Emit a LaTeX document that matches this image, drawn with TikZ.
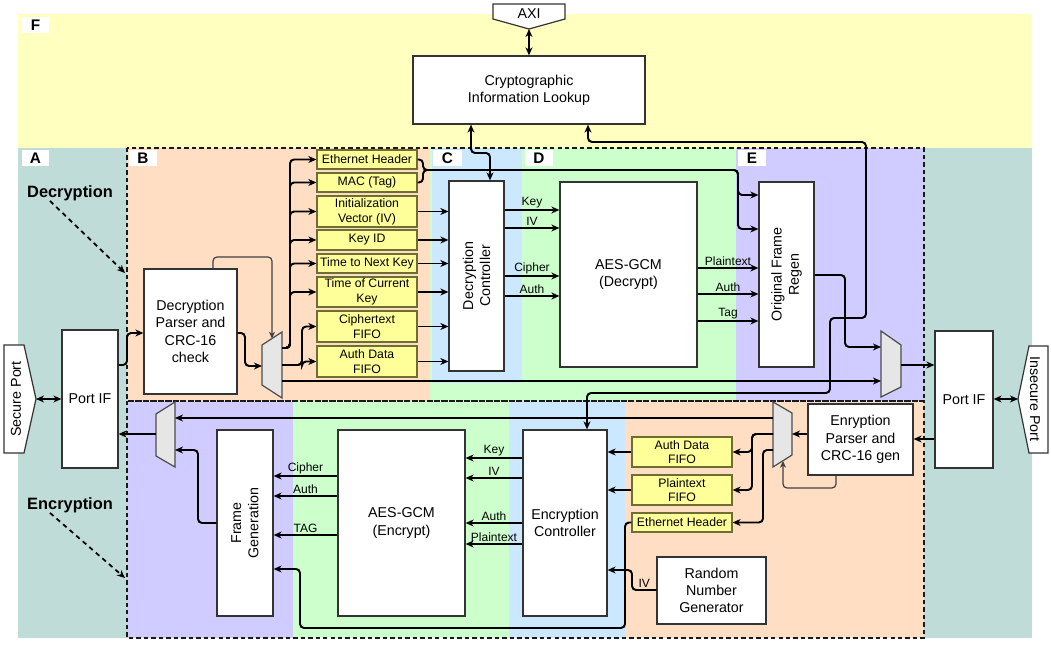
\documentclass[tikz,border=0pt]{standalone}
\usepackage{fontspec}
\setmainfont{Liberation Sans}
\usetikzlibrary{arrows.meta}
\definecolor{cF}{RGB}{255,255,192}
\definecolor{cA}{RGB}{192,220,216}
\definecolor{cB}{RGB}{255,222,196}
\definecolor{cC}{RGB}{204,232,255}
\definecolor{cD}{RGB}{204,255,204}
\definecolor{cE}{RGB}{208,204,255}
\definecolor{cFifo}{RGB}{255,255,153}
\definecolor{cFifoB}{RGB}{110,110,50}
\definecolor{cMux}{RGB}{230,230,230}
\newcommand\mkbox[7]{\pgfmathsetmacro\bw{(#5-#3)*0.75}\pgfmathsetmacro\bh{(#6-#4)*0.75}\node[#1,minimum width=\bw pt,minimum height=\bh pt] (#2) at ({(#3+#5)/2},{(#4+#6)/2}) {#7};}
\tikzset{
 >={Stealth[length=6pt,width=5.2pt,inset=1.8pt]},
 box/.style={draw=black!80, fill=white, line width=0.9pt, inner sep=0pt, align=center, font=\fontsize{10.7}{12.9}\selectfont},
 rtext/.style={rotate=90, align=center, inner sep=0pt, font=\fontsize{10.7}{12.9}\selectfont},
 fifo/.style={draw=cFifoB, fill=cFifo, line width=0.9pt, inner sep=0pt, align=center, font=\fontsize{9.2}{11}\selectfont},
 wire/.style={line width=1.45pt, rounded corners=3pt},
 wirethin/.style={line width=1.1pt, rounded corners=3pt},
 selw/.style={line width=0.9pt, draw=black!75, rounded corners=3pt, -{Stealth[length=5pt,width=4.5pt,inset=1.5pt]}},
 lbl/.style={font=\fontsize{9}{10}\selectfont, inner sep=1pt, above},
 mux/.style={draw=black!70, fill=cMux, line width=0.9pt},
 tagbox/.style={fill=white, inner sep=0pt, font=\bfseries\fontsize{11.5}{13}\selectfont},
 dashbox/.style={draw=black!90, line width=1.4pt, dash pattern=on 3.3pt off 2.3pt},
 bigl/.style={font=\bfseries\fontsize{12.3}{14}\selectfont, inner sep=0pt},
 dasharr/.style={line width=1.3pt, dash pattern=on 3.5pt off 3pt, ->},
}
\begin{document}
\begin{tikzpicture}[x=0.75pt,y=-0.75pt]
\useasboundingbox (0,0) rectangle (1051,648);
% regions
\fill[cA] (18,148) rectangle (1032,638);
\fill[cF] (18,14) rectangle (1032,148);
\fill[cB] (127,148) rectangle (432,401);
\fill[cD] (430,148) rectangle (736,401);
\fill[cC] (432,148) rectangle (522,383);
\fill[cE] (736,148) rectangle (924,401);
\fill[cE] (127,401) rectangle (293,638);
\fill[cD] (293,401) rectangle (509,638);
\fill[cC] (509,401) rectangle (625,638);
\fill[cB] (625,401) rectangle (924,638);
\draw[dashbox] (127,148) rectangle (924,401);
\draw[dashbox] (127,401) rectangle (924,638);
% region tags
\mkbox{tagbox}{tF}{22}{17}{49}{33}{F}
\mkbox{tagbox}{tA}{22}{150}{49}{166}{A}
\mkbox{tagbox}{tB}{129}{150}{157}{166}{B}
\mkbox{tagbox}{tC}{433}{150}{462}{166}{C}
\mkbox{tagbox}{tD}{525}{150}{553}{166}{D}
\mkbox{tagbox}{tE}{738}{150}{766}{166}{E}
% AXI
\draw[draw=black!80, fill=white, line width=0.9pt] (493,4) -- (565,4) -- (565,19) -- (529,29) -- (493,19) -- cycle;
\node[font=\fontsize{10.7}{12.9}\selectfont] (axi) at (529,14) {AXI};
\coordinate (axiTip) at (529,29);
% ports
\draw[draw=black!80, fill=white, line width=0.9pt] (4,345) -- (24,345) -- (36,399) -- (24,453) -- (4,453) -- cycle;
\node[rotate=90, font=\fontsize{10.7}{12.9}\selectfont] (secure) at (16,399) {Secure Port};
\coordinate (secTip) at (36,399);
\draw[draw=black!80, fill=white, line width=0.9pt] (1048,346) -- (1029,346) -- (1018,399) -- (1029,453) -- (1048,453) -- cycle;
\node[rotate=-90, font=\fontsize{10.7}{12.9}\selectfont] (insecure) at (1035,399) {Insecure Port};
\coordinate (insTip) at (1018,399);
% boxes
\mkbox{box}{crypto}{413}{56}{645}{124}{Cryptographic\\Information Lookup}
\mkbox{box}{decparser}{144}{269}{237}{394}{Decryption\\Parser and\\CRC-16\\check}
\mkbox{box}{portL}{62}{330}{118}{468}{Port IF}
\mkbox{box}{decctrl}{449}{181}{504}{371}{}
\mkbox{box}{aesd}{560}{182}{697}{367}{AES-GCM\\(Decrypt)}
\mkbox{box}{ofr}{759}{182}{814}{367}{}
\mkbox{box}{portR}{935}{331}{993}{468}{Port IF}
\mkbox{box}{encparser}{808}{404}{913}{475}{Enryption\\Parser and\\CRC-16 gen}
\mkbox{box}{encctrl}{523}{430}{607}{616}{Encryption\\Controller}
\mkbox{box}{aese}{338}{430}{465}{616}{AES-GCM\\(Encrypt)}
\mkbox{box}{framegen}{217}{430}{273}{616}{}
\mkbox{box}{rng}{657}{557}{766}{624}{Random\\Number\\Generator}
\node[rtext] at (decctrl.center) {Decryption\\Controller};
\node[rtext] at (ofr.center) {Original Frame\\Regen};
\node[rtext] at (framegen.center) {Frame\\Generation};
% fifos
\mkbox{fifo}{fEH}{317}{150}{417}{169}{Ethernet Header}
\mkbox{fifo}{fMAC}{317}{173}{417}{192}{MAC (Tag)}
\mkbox{fifo}{fIV}{317}{196}{417}{227}{Initialization\\Vector (IV)}
\mkbox{fifo}{fKID}{317}{230}{417}{250}{Key ID}
\mkbox{fifo}{fTNK}{317}{254}{417}{273}{Time to Next Key}
\mkbox{fifo}{fTCK}{317}{277}{417}{307}{Time of Current\\Key}
\mkbox{fifo}{fCT}{317}{311}{417}{342}{Ciphertext\\FIFO}
\mkbox{fifo}{fAD}{317}{346}{417}{377}{Auth Data\\FIFO}
\mkbox{fifo}{eAD}{632}{437}{732}{467}{Auth Data\\FIFO}
\mkbox{fifo}{ePT}{632}{475}{732}{505}{Plaintext\\FIFO}
\mkbox{fifo}{eEH}{632}{513}{732}{532}{Ethernet Header}
% muxes
\draw[mux] (262,345) -- (282,332) -- (282,398) -- (262,385) -- cycle;
\draw[mux] (881,331) -- (901,345) -- (901,387) -- (881,397) -- cycle;
\draw[mux] (773,402) -- (792,413) -- (792,455) -- (773,467) -- cycle;
\draw[mux] (156,414) -- (175,402) -- (175,467) -- (156,456) -- cycle;
\coordinate (dmuxIn) at (262,366);
\coordinate (dmuxSel) at (272,338.5);
\coordinate (dmuxO1) at (282,348);
\coordinate (dmuxO2) at (282,365);
\coordinate (dmuxO3) at (282,381);
\coordinate (rmuxI1) at (881,347);
\coordinate (rmuxI2) at (881,381);
\coordinate (rmuxO) at (901,365);
\coordinate (emuxIn) at (792,434);
\coordinate (emuxSel) at (783,461);
\coordinate (emuxO1) at (773,418);
\coordinate (emuxO2) at (773,434);
\coordinate (emuxO3) at (773,450);
\coordinate (lmuxI1) at (175,418);
\coordinate (lmuxI2) at (175,450);
\coordinate (lmuxO) at (156,434);
% wires top
\draw[wire,<->] (axiTip) -- (crypto.north);
\draw[wire,<->] (crypto.south -| 471,0) -- (471,153) -- (490,153) -- (decctrl.north -| 490,0);
\draw[wire,<->] (crypto.south -| 588,0) -- (588,142) -- (866,142) -- (866,318) -- (830,318) -- (830,393) -- (587,393) -- (encctrl.north -| 587,0);
\draw[wire,<->] (secTip) -- (portL.west |- secTip);
\draw[wire,->] (portL.east |- 0,365) -- (127,365) -- (127,333) -- (decparser.west |- 0,333);
\draw[wire,->] (decparser.east |- 0,333) -- (245,333) -- (245,366) -- (dmuxIn);
\draw[selw] (decparser.north -| 213,0) -- (213,257) -- (272,257) -- (dmuxSel);
\foreach \f in {fEH,fMAC,fIV,fKID,fTNK,fTCK} {\draw[wire,->] (dmuxO1) -- (290,348) |- (\f.west);}
\foreach \f in {fCT,fAD} {\draw[wire,->] (dmuxO2) -- (302,365) |- (\f.west);}
\draw[wirethin,->] (dmuxO3) -- (rmuxI2);
\foreach \f in {fIV,fKID,fTNK,fTCK,fCT,fAD} {\draw[wire,->] (\f.east) -- (decctrl.west |- \f.east);}
\draw[wire,->] (fEH.east) -- (423,159.5) -- (423,170) -- (738,170) -- (738,195) -- (ofr.west |- 0,195);
\draw[wire,->] (fMAC.east) -- (423,182.5) -- (423,170) -- (738,170) -- (738,229) -- (ofr.west |- 0,229);
\foreach \yy/\lab in {210/Key,228/IV,276/Cipher,296/Auth} {\draw[wire,->] (decctrl.east |- 0,\yy) -- node[lbl]{\lab} (aesd.west |- 0,\yy);}
\foreach \yy/\lab in {268/Plaintext,294/Auth,321/Tag} {\draw[wire,->] (aesd.east |- 0,\yy) -- node[lbl]{\lab} (ofr.west |- 0,\yy);}
\draw[wire,->] (ofr.east |- 0,275) -- (845,275) -- (845,347) -- (rmuxI1);
\draw[wire,->] (rmuxO) -- (portR.west |- rmuxO);
\draw[wire,<->] (portR.east |- insTip) -- (insTip);
% wires bottom
\draw[wire,->] (portR.west |- 0,439) -- (encparser.east |- 0,439);
\draw[wire,->] (encparser.west |- emuxIn) -- (emuxIn);
\draw[selw] (encparser.south -| 836,0) -- (836,488) -- (783,488) -- (emuxSel);
\draw[wirethin,->] (emuxO1) -- (lmuxI1);
\draw[wire,->] (emuxO2) -- (752,434) |- (eAD.east);
\draw[wire,->] (emuxO2) -- (752,434) |- (ePT.east);
\draw[wire,->] (emuxO3) -- (763,450) |- (eEH.east);
\draw[wire,->] (eAD.west) -- (encctrl.east |- eAD.west);
\draw[wire,->] (ePT.west) -- (encctrl.east |- ePT.west);
\draw[wire,->] (eEH.west) -- (625,522.5) -- (625,628) -- (300,628) -- (300,569) -- (framegen.east |- 0,569);
\draw[wire,->] (rng.west |- 0,590) -- node[lbl]{IV} (632,590) -- (632,570) -- (encctrl.east |- 0,570);
\foreach \yy/\lab in {458/Key,478/IV,523/Auth,544/Plaintext} {\draw[wire,->] (encctrl.west |- 0,\yy) -- node[lbl]{\lab} (aese.east |- 0,\yy);}
\foreach \yy/\lab in {476/Cipher,496/Auth,535/TAG} {\draw[wire,->] (aese.west |- 0,\yy) -- node[lbl]{\lab} (framegen.east |- 0,\yy);}
\draw[wire,->] (framegen.west |- 0,523) -- (198,523) -- (198,450) -- (lmuxI2);
\draw[wire,->] (lmuxO) -- (portL.east |- lmuxO);
% side labels
\node[bigl] (declbl) at (70,193) {Decryption};
\node[bigl] (enclbl) at (70,505) {Encryption};
\coordinate (decTgt) at (125,273);
\coordinate (encTgt) at (125,578);
\draw[dasharr] (declbl.south -| 50,0) -- (decTgt);
\draw[dasharr] (enclbl.south -| 50,0) -- (encTgt);
\end{tikzpicture}
\end{document}
